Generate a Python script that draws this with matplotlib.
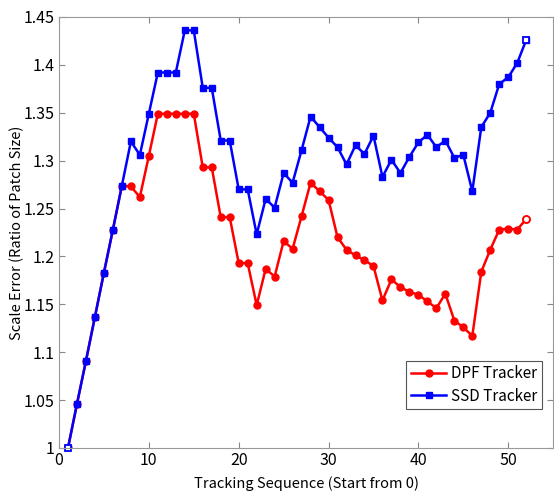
import matplotlib.pyplot as plt
import numpy as np

# frame index along the tracking sequence
frames = list(range(1, 53))

# DPF tracker scale error (first frames coincide with SSD)
dpf_error = [
    1.000, 1.046, 1.091, 1.137, 1.183, 1.228, 1.274, 1.273, 1.262, 1.305,
    1.349, 1.349, 1.349, 1.349, 1.349, 1.293, 1.293, 1.241, 1.241, 1.193,
    1.193, 1.149, 1.187, 1.179, 1.216, 1.208, 1.242, 1.277, 1.268, 1.259,
    1.220, 1.207, 1.201, 1.196, 1.190, 1.154, 1.176, 1.168, 1.163, 1.160,
    1.153, 1.146, 1.161, 1.133, 1.126, 1.117, 1.184, 1.207, 1.228, 1.229,
    1.228, 1.239,
]

# SSD tracker scale error
ssd_error = [
    1.000, 1.046, 1.091, 1.137, 1.183, 1.228, 1.274, 1.320, 1.306, 1.349,
    1.392, 1.392, 1.392, 1.436, 1.436, 1.376, 1.376, 1.321, 1.321, 1.270,
    1.270, 1.223, 1.260, 1.251, 1.287, 1.277, 1.311, 1.346, 1.335, 1.324,
    1.314, 1.296, 1.316, 1.307, 1.326, 1.283, 1.301, 1.287, 1.304, 1.319,
    1.327, 1.314, 1.321, 1.303, 1.306, 1.268, 1.335, 1.350, 1.380, 1.387,
    1.402, 1.426,
]

x_ticks = [0, 10, 20, 30, 40, 50]
y_ticks = [1, 1.05, 1.1, 1.15, 1.2, 1.25, 1.3, 1.35, 1.4, 1.45]
y_tick_labels = ["1", "1.05", "1.1", "1.15", "1.2", "1.25", "1.3", "1.35", "1.4", "1.45"]

plt.rcParams["font.family"] = ["Noto Sans CJK JP", "DejaVu Sans"]

fig = plt.figure(figsize=(5.54, 4.96), dpi=100)
ax = fig.add_axes([0.1065, 0.0968, 0.892, 0.869])

ax.plot(frames, dpf_error, color="#ff0000", linewidth=1.8, marker="o",
        markersize=5, label="DPF Tracker")
ax.plot(frames, ssd_error, color="#0000ff", linewidth=1.8, marker="s",
        markersize=4.5, label="SSD Tracker")
# open end markers as in the original export
ax.plot(frames[-1:], dpf_error[-1:], linestyle="none", marker="o", markersize=5,
        color="#ff0000", markerfacecolor="white", markeredgewidth=1.3)
ax.plot(frames[-1:], ssd_error[-1:], linestyle="none", marker="s", markersize=4.5,
        color="#0000ff", markerfacecolor="white", markeredgewidth=1.3)
ax.plot(frames[:1], ssd_error[:1], linestyle="none", marker="s", markersize=4.5,
        color="#0000ff", markerfacecolor="white", markeredgewidth=1.3,
        clip_on=False)

ax.set_xlim(0, 55)
ax.set_ylim(1, 1.45)
ax.set_xticks(x_ticks)
ax.set_yticks(y_ticks)
ax.set_yticklabels(y_tick_labels)
ax.tick_params(direction="in", top=True, right=True, length=4,
               color="#888888", labelsize=11.5, pad=3)

for spine in ax.spines.values():
    spine.set_color("#999999")
    spine.set_linewidth(0.8)

ax.set_xlabel("Tracking Sequence (Start from 0)", fontsize=10.5, labelpad=5)
ax.set_ylabel("Scale Error (Ratio of Patch Size)", fontsize=10.5, labelpad=0)

leg = ax.legend(loc="lower right", bbox_to_anchor=(0.992, 0.072), fontsize=11,
                fancybox=False, framealpha=1, edgecolor="#555555",
                handlelength=2.3, borderpad=0.3, labelspacing=0.35,
                handletextpad=0.3)
leg.get_frame().set_linewidth(0.8)

fig.savefig("out.png", dpi=100)
